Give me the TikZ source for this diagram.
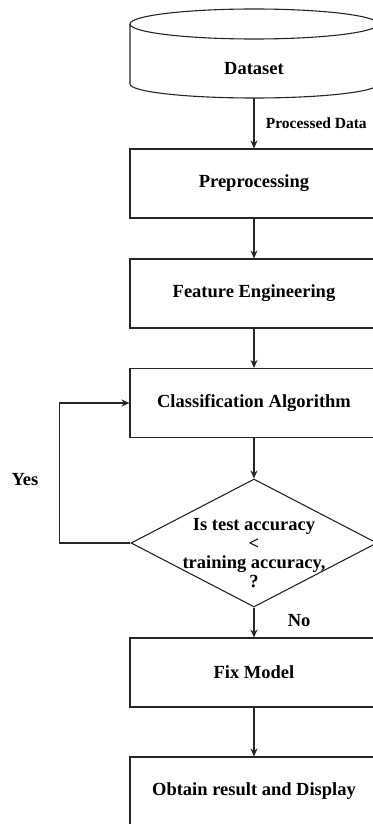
\documentclass[tikz,border=0pt]{standalone}
\usepackage{fontspec}
\setmainfont{Liberation Serif}
\usetikzlibrary{shapes.geometric}
\usetikzlibrary{arrows.meta}

\begin{document}
\begin{tikzpicture}[x=1pt, y=-1pt, line width=1.1pt, draw=black!85,
  font=\fontsize{18.5}{19}\selectfont\bfseries,
  box/.style={draw, rectangle, minimum width=248pt, minimum height=69pt, inner sep=0pt},
  decision/.style={draw, diamond, minimum width=246pt, minimum height=128pt, inner sep=0pt},
  arr/.style={-{Stealth[length=8pt, width=7pt]}}]

\useasboundingbox (0,0) rectangle (372,824);

% dataset drum
\draw (254,24) ellipse [x radius=124pt, y radius=15pt];
\draw (130,24) -- (130,84) arc[start angle=180, end angle=360, x radius=124pt, y radius=14pt] -- (378,24);
\node (dataset) at (254,69) {Dataset};
\coordinate (dsbot) at (254,98);

\node[box] (pre)  at (254,183.5) {Preprocessing};
\node[box] (feat) at (254,293.5) {Feature Engineering};
\node[box] (clf)  at (254,403)   {Classification Algorithm};
\node[decision] (dec) at (254,543) {};
\node[align=center] (dectxt) at (254,553) {Is test accuracy\\<\\training accuracy,\\?};
\node[box] (fix)  at (254,672.5) {Fix Model};
\node[box] (out)  at (254,791.5) {Obtain result and Display};

\draw[arr] (dsbot) -- node[right=8pt, pos=0.5, font=\fontsize{15.5}{18}\selectfont\bfseries] {Processed Data} (pre);
\draw[arr] (pre)  -- (feat);
\draw[arr] (feat) -- (clf);
\draw[arr] (clf)  -- (dec);
\draw[arr] (dec)  -- node[right=30pt, pos=0.45] {No} (fix);
\draw[arr] (fix)  -- (out);
\draw[arr] (dec.west) -- ++(-71,0) |- (clf.west);
\node (yes) at (25,480) {Yes};

\end{tikzpicture}
\end{document}
